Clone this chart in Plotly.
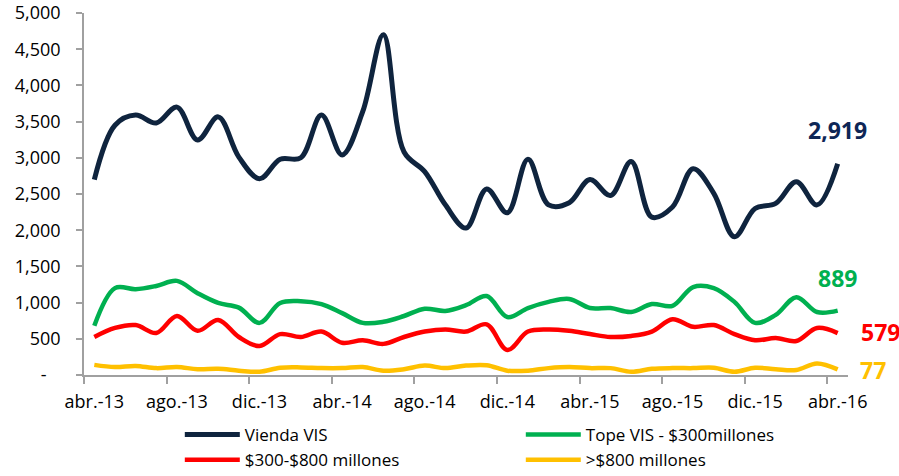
import plotly.graph_objects as go

months = ["abr.-13", "may.-13", "jun.-13", "jul.-13", "ago.-13", "sep.-13", "oct.-13", "nov.-13",
          "dic.-13", "ene.-14", "feb.-14", "mar.-14", "abr.-14", "may.-14", "jun.-14", "jul.-14",
          "ago.-14", "sep.-14", "oct.-14", "nov.-14", "dic.-14", "ene.-15", "feb.-15", "mar.-15",
          "abr.-15", "may.-15", "jun.-15", "jul.-15", "ago.-15", "sep.-15", "oct.-15", "nov.-15",
          "dic.-15", "ene.-16", "feb.-16", "mar.-16", "abr.-16"]

vivienda_vis = [2700, 3450, 3590, 3480, 3700, 3245, 3565, 3010, 2710, 2980, 3000, 3590, 3040,
                3640, 4700, 3080, 2810, 2350, 2030, 2570, 2240, 2980, 2350, 2380, 2700, 2480,
                2950, 2180, 2320, 2850, 2510, 1910, 2300, 2370, 2670, 2350, 2919]
tope_vis = [680, 1200, 1185, 1230, 1300, 1130, 995, 930, 720, 995, 1020, 980, 855, 720, 735,
            815, 915, 885, 965, 1090, 800, 925, 1010, 1050, 925, 925, 870, 980, 955, 1215,
            1200, 1010, 720, 830, 1075, 870, 889]
rango_300_800 = [525, 650, 690, 580, 815, 610, 760, 525, 400, 565, 525, 600, 445, 480, 430,
                 525, 600, 630, 600, 700, 345, 600, 630, 610, 565, 525, 540, 600, 770, 665,
                 690, 565, 480, 510, 470, 650, 579]
mas_800 = [140, 110, 125, 95, 110, 80, 85, 60, 45, 100, 105, 95, 95, 110, 60, 80, 130, 95,
           130, 135, 60, 60, 95, 110, 95, 95, 45, 85, 95, 95, 100, 45, 100, 80, 70, 160, 77]

series_names = ["Vienda VIS", "Tope VIS - $300millones", "$300-$800 millones", ">$800 millones"]
series_colors = ["#0F243E", "#00B050", "#FF0000", "#FFC000"]
label_colors = ["#0E2656", "#00B050", "#FF0000", "#FFC000"]

y_ticks = [0, 500, 1000, 1500, 2000, 2500, 3000, 3500, 4000, 4500, 5000]
y_ticktext = ["-\u00a0\u00a0\u00a0"] + [f"{v:,}" for v in y_ticks[1:]]

x = list(range(len(months)))
label_idx = list(range(0, len(months), 4))
tick_marks = [i - 0.5 for i in range(0, len(months), 4)]

fig = go.Figure()
all_series = [vivienda_vis, tope_vis, rango_300_800, mas_800]
widths = [5, 4.5, 4.5, 4.5]
for vals, name, col, w in zip(all_series, series_names, series_colors, widths):
    fig.add_trace(go.Scatter(x=x, y=vals, name=name, mode="lines",
                             line=dict(color=col, width=w, shape="spline", smoothing=1.0)))

# end labels
end_specs = [
    (vivienda_vis, label_colors[0], "center", 0, 34),
    (tope_vis, label_colors[1], "center", 0, 33),
    (rango_300_800, label_colors[2], "left", 21, 1),
    (mas_800, label_colors[3], "left", 20, -1),
]
for vals, col, anchor, xs, ys in end_specs:
    fig.add_annotation(x=x[-1], y=vals[-1], xref="x", yref="y", text=f"<b>{vals[-1]:,}</b>",
                       showarrow=False, xanchor=anchor, yanchor="middle", xshift=xs, yshift=ys,
                       font=dict(family="Open Sans", size=23, color=col))

axis_gray = "#A0A0A0"
fig.update_layout(
    width=899, height=476,
    margin=dict(l=84, r=51, t=13, b=101, autoexpand=False),
    paper_bgcolor="white", plot_bgcolor="white",
    font=dict(family="Open Sans", size=18, color="black"),
    showlegend=True,
    legend=dict(orientation="h", x=0.1254, y=-0.2845, xanchor="left", yanchor="bottom",
                entrywidth=271, entrywidthmode="pixels", itemwidth=55,
                font=dict(family="Open Sans", size=17, color="black"),
                traceorder="normal", bgcolor="rgba(0,0,0,0)"),
    xaxis=dict(range=[-0.5, 36.5], showgrid=False, zeroline=False, automargin=False,
               showline=True, linecolor=axis_gray, linewidth=1.5,
               tickmode="array", tickvals=label_idx, ticktext=[months[i] for i in label_idx],
               ticks="", ticklabelstandoff=10,
               minor=dict(tickmode="array", tickvals=tick_marks, ticks="outside",
                          ticklen=7, tickwidth=1.5, tickcolor=axis_gray, showgrid=False),
               tickfont=dict(size=18)),
    yaxis=dict(range=[0, 5000], showgrid=False, zeroline=False, automargin=False,
               showline=True, linecolor=axis_gray, linewidth=1.5,
               tickmode="array", tickvals=y_ticks, ticktext=y_ticktext,
               ticks="outside", ticklen=6, tickwidth=1.5, tickcolor=axis_gray,
               ticklabelstandoff=12, tickfont=dict(size=18)),
)

fig.write_html("out.html", config={"displayModeBar": False},
               post_script="document.body.style.margin='0px';")
